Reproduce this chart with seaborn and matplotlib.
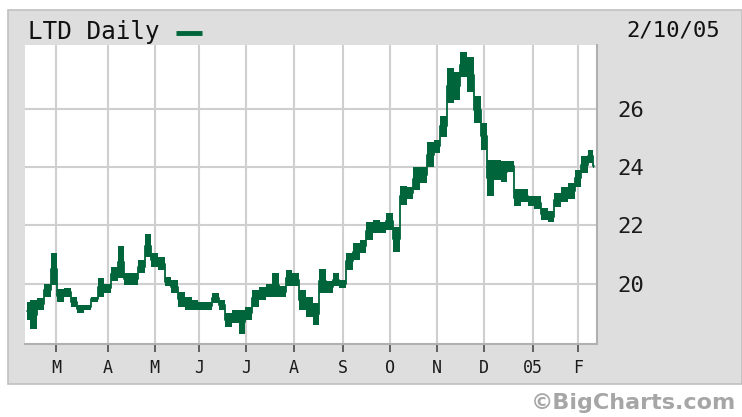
import numpy as np
import pandas as pd
import matplotlib
matplotlib.use("Agg")
import matplotlib.pyplot as plt
import seaborn as sns
from matplotlib.patches import Rectangle
from matplotlib.lines import Line2D

# ---------------- data ----------------
dates = [
    "2004-02-10", "2004-02-13", "2004-02-19", "2004-02-24", "2004-02-27",
    "2004-03-03", "2004-03-08", "2004-03-11", "2004-03-16", "2004-03-19",
    "2004-03-24", "2004-03-29", "2004-04-01", "2004-04-06", "2004-04-12",
    "2004-04-15", "2004-04-20", "2004-04-23", "2004-04-28", "2004-05-03",
    "2004-05-06", "2004-05-11", "2004-05-14", "2004-05-19", "2004-05-24",
    "2004-05-27", "2004-06-02", "2004-06-07", "2004-06-10", "2004-06-16",
    "2004-06-21", "2004-06-24", "2004-06-29", "2004-07-02", "2004-07-08",
    "2004-07-13", "2004-07-16", "2004-07-21", "2004-07-26", "2004-07-29",
    "2004-08-03", "2004-08-06", "2004-08-11", "2004-08-16", "2004-08-19",
    "2004-08-24", "2004-08-27", "2004-09-01", "2004-09-07", "2004-09-10",
    "2004-09-15", "2004-09-20", "2004-09-23", "2004-09-28", "2004-10-01",
    "2004-10-06", "2004-10-11", "2004-10-14", "2004-10-19", "2004-10-22",
    "2004-10-27", "2004-11-01", "2004-11-04", "2004-11-09", "2004-11-12",
    "2004-11-17", "2004-11-22", "2004-11-26", "2004-12-01", "2004-12-06",
    "2004-12-09", "2004-12-14", "2004-12-17", "2004-12-22", "2004-12-28",
    "2004-12-31", "2005-01-05", "2005-01-10", "2005-01-13", "2005-01-19",
    "2005-01-24", "2005-01-27", "2005-02-01", "2005-02-04", "2005-02-09",
    "2005-02-10",
]
low = [
    18.74, 18.43, 19.10, 19.55, 19.95,
    19.37, 19.55, 19.20, 19.00, 19.10,
    19.37, 19.55, 19.67, 20.10, 20.20,
    19.95, 19.95, 20.35, 20.90, 20.57,
    20.47, 19.90, 19.67, 19.20, 19.10,
    19.10, 19.10, 19.10, 19.33, 19.10,
    18.50, 18.64, 18.25, 18.74, 19.20,
    19.43, 19.55, 19.55, 19.55, 19.90,
    19.90, 19.10, 18.85, 18.57, 19.67,
    19.67, 19.90, 19.85, 20.47, 20.80,
    21.05, 21.50, 21.75, 21.75, 21.85,
    21.10, 22.70, 22.90, 23.20, 23.47,
    24.00, 24.50, 25.05, 26.20, 26.30,
    27.10, 26.57, 25.53, 24.60, 23.00,
    23.57, 23.50, 23.85, 22.66, 22.80,
    22.66, 22.55, 22.20, 22.10, 22.64,
    22.80, 22.90, 23.33, 23.80, 24.15,
    23.98,
]
high = [
    19.37, 19.43, 19.50, 20.00, 21.05,
    19.80, 19.85, 19.55, 19.27, 19.27,
    19.55, 20.20, 20.00, 20.57, 21.30,
    20.35, 20.35, 20.80, 21.70, 21.05,
    20.90, 20.23, 20.12, 19.70, 19.55,
    19.43, 19.37, 19.37, 19.67, 19.43,
    19.00, 19.10, 19.10, 19.20, 19.77,
    19.88, 20.00, 20.35, 19.90, 20.47,
    20.35, 19.77, 19.55, 19.33, 20.50,
    20.10, 20.35, 20.12, 21.05, 21.40,
    21.50, 22.10, 22.20, 22.10, 22.43,
    21.95, 23.35, 23.33, 24.00, 24.00,
    24.85, 24.95, 25.75, 27.40, 27.26,
    27.95, 27.80, 26.43, 25.53, 24.26,
    24.26, 24.20, 24.20, 23.25, 23.25,
    23.00, 23.00, 22.60, 22.50, 23.10,
    23.33, 23.47, 23.90, 24.37, 24.60,
    24.10,
]
month_starts = ["2004-03-01", "2004-04-01", "2004-05-03", "2004-06-01",
                "2004-07-01", "2004-08-02", "2004-09-01", "2004-10-01",
                "2004-11-01", "2004-12-01", "2005-01-03", "2005-02-01"]
month_labels = ["M", "A", "M", "J", "J", "A", "S", "O", "N", "D", "05", "F"]
y_ticks = [20, 22, 24, 26]
holidays = ["2004-02-16", "2004-04-09", "2004-05-31", "2004-06-11",
            "2004-07-05", "2004-09-06", "2004-11-25", "2004-12-24",
            "2005-01-17"]

# ---------------- trading-day axis ----------------
sessions = pd.bdate_range("2004-02-10", "2005-02-10")
sessions = sessions[~sessions.isin(pd.to_datetime(holidays))]
pos = sessions.get_indexer(pd.to_datetime(dates))
tick_pos = sessions.get_indexer(pd.to_datetime(month_starts))

df = pd.DataFrame({
    "session": np.concatenate([pos, pos]),
    "price": np.concatenate([low, high]),
})

GREEN = "#00653a"

sns.set_theme(style="white")
plt.rcParams["font.family"] = ["DejaVu Sans Mono", "DejaVu Sans"]

W, H = 742, 417
fig = plt.figure(figsize=(W / 100, H / 100), dpi=100)
fig.patch.set_facecolor("white")

# grey frame behind everything
frame = Rectangle((8 / W, 1 - 384 / H), (W - 8) / W, (384 - 10) / H,
                  transform=fig.transFigure, facecolor="#dedede",
                  edgecolor="#c0c0c0", linewidth=1.2, zorder=-5)
fig.patches.append(frame)

ax = fig.add_axes([25 / W, 1 - 344 / H, 572 / W, 299 / H])
ax.set_zorder(1)
ax.set_facecolor("white")

sns.lineplot(data=df, x="session", y="price", estimator="mean",
             errorbar=("pi", 100), color=GREEN, linewidth=1.3,
             drawstyle="steps-mid",
             err_kws={"alpha": 1, "step": "mid", "linewidth": 0},
             ax=ax)

ax.set_xlim(-0.9, 254.5)
ax.set_ylim(17.92, 28.2)
ax.set_xticks(tick_pos)
ax.set_xticklabels(month_labels)
ax.set_yticks(y_ticks)
ax.set_yticklabels([str(v) for v in y_ticks])
ax.set_xlabel("")
ax.set_ylabel("")
ax.set_axisbelow(True)
ax.grid(True, color="#cfcfcf", linewidth=1.5)

ax.yaxis.tick_right()
ax.tick_params(axis="y", which="both", left=False, right=False, length=0,
               labelleft=False, labelright=True, pad=15, labelsize=16,
               labelcolor="#1a1a1a")
ax.tick_params(axis="x", bottom=True, length=6, width=1.3, color="#555555",
               pad=5, labelsize=12, labelcolor="#1a1a1a")

for side in ("left", "top"):
    ax.spines[side].set_visible(False)
for side in ("right", "bottom"):
    ax.spines[side].set_color("#b0b0b0")
    ax.spines[side].set_linewidth(1.5)

# title, legend swatch and date
fig.text(28 / W, 1 - 32 / H, "LTD Daily", ha="left", va="center",
         fontsize=17.5, color="#111111")
fig.add_artist(Line2D([176 / W, 202 / W], [1 - 33 / H, 1 - 33 / H],
                      transform=fig.transFigure, color=GREEN, linewidth=3.5,
                      solid_capstyle="butt"))
fig.text(720 / W, 1 - 31 / H, "2/10/05", ha="right", va="center",
         fontsize=16, color="#111111")
fig.text(736 / W, 1 - 403 / H, "\u00a9BigCharts.com", ha="right", va="center",
         fontsize=16, fontweight="bold", color="#a6a6a6",
         family=["DejaVu Sans"])

fig.savefig("out.png", dpi=100)
